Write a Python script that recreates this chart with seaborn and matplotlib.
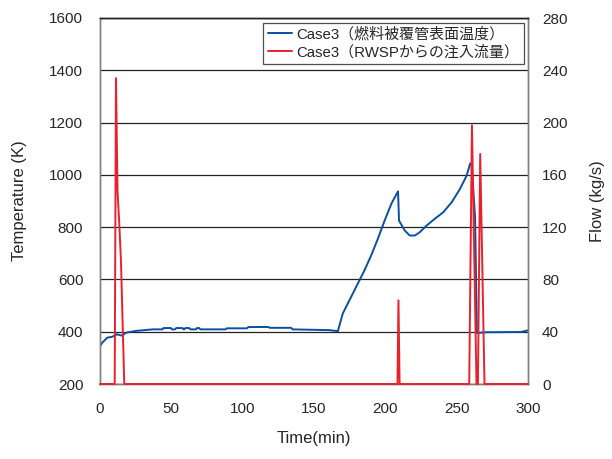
import matplotlib
matplotlib.use("Agg")
import matplotlib.pyplot as plt
import seaborn as sns
import pandas as pd

# ---- data ----
temp_time = [0, 1.6, 5, 8.7, 12, 14.5, 16, 18, 25, 37, 43.8, 44.5, 49.7, 50.4, 52.7, 53.4,
             57.9, 58.6, 59.1, 59.8, 62.6, 63.3, 67.3, 68, 69.6, 70.3, 88, 89, 103, 104,
             118, 119, 134, 135, 161, 166.7, 170.2, 174.9, 181.9, 185.4, 190.1, 194.8,
             199.5, 204.2, 206.6, 208.9, 209.6, 213.6, 217.1, 220.7, 224.2, 228.9, 234.7,
             240.6, 246.5, 252.3, 257, 259.5, 260.5, 262.9, 264.2, 266, 271, 295, 300]
temp_vals = [345, 358, 377, 381, 390, 386, 386, 396, 403, 409, 409, 414, 414, 409, 409, 414,
             414, 409, 409, 414, 414, 409, 409, 414, 414, 409, 409, 413, 413, 418,
             418, 415, 415, 409, 406, 402, 470, 521, 597, 635, 692, 756,
             825, 889, 914, 937, 825, 787, 768, 768, 781, 806, 832,
             857, 895, 946, 997, 1044, 1039, 838, 395, 396, 398, 399, 405]

flow_time = [0, 10.3, 11.2, 12.3, 13.5, 14.7, 17, 208.5, 209.2, 210,
             258.8, 260.7, 263.9, 264.9, 266.5, 269.5, 300]
flow_vals = [0, 0, 234, 147, 123, 94, 0, 0, 64, 0,
             0, 198, 0, 0, 176, 0, 0]

x_ticks = [0, 50, 100, 150, 200, 250, 300]
t_ticks = [200, 400, 600, 800, 1000, 1200, 1400, 1600]
f_ticks = [0, 40, 80, 120, 160, 200, 240, 280]

label_temp = "Case3（燃料被覆管表面温度）"
label_flow = "Case3（RWSPからの注入流量）"

df_t = pd.DataFrame({"time": temp_time, "value": temp_vals})
df_f = pd.DataFrame({"time": flow_time, "value": flow_vals})

# ---- style ----
sns.set_style("white")
plt.rcParams['font.family'] = ['Liberation Sans', 'Noto Sans CJK JP', 'DejaVu Sans']

BLUE = "#0a4fa3"
RED = "#e8212d"
GRID = "#222222"
SPINE = "#7f7f7f"

fig = plt.figure(figsize=(6.12, 4.59), dpi=100)
ax = fig.add_axes([100/612, 1 - 384/459, 428/612, 366/459])
ax2 = ax.twinx()

sns.lineplot(data=df_t, x="time", y="value", ax=ax, color=BLUE, lw=1.4,
             label=label_temp, legend=False, estimator=None, sort=False, zorder=3)
sns.lineplot(data=df_f, x="time", y="value", ax=ax2, color=RED, lw=1.4,
             label=label_flow, legend=False, estimator=None, sort=False,
             clip_on=False, zorder=5)

ax.set_xlim(0, 300)
ax.set_ylim(200, 1600)
ax2.set_ylim(0, 280)
ax.set_xticks(x_ticks)
ax.set_yticks(t_ticks)
ax2.set_yticks(f_ticks)

ax.yaxis.grid(True, color=GRID, lw=0.9)
ax.set_axisbelow(True)
ax.xaxis.grid(False)

for a in (ax, ax2):
    for s in a.spines.values():
        s.set_color(SPINE)
        s.set_linewidth(1.0)
ax.spines['top'].set_color(GRID)
ax2.spines['top'].set_color(GRID)

ax.tick_params(axis='x', direction='in', length=5, width=0.9, color="#333333",
               labelsize=11, pad=13)
ax.tick_params(axis='y', length=0, labelsize=11, pad=12)
ax2.tick_params(axis='y', length=0, labelsize=11, pad=10)

ax.set_xlabel("Time(min)", fontsize=12, labelpad=11)
ax.set_ylabel("Temperature (K)", fontsize=12, labelpad=16)
ax2.set_ylabel("Flow (kg/s)", fontsize=12, labelpad=16)

h1, l1 = ax.get_legend_handles_labels()
h2, l2 = ax2.get_legend_handles_labels()
leg = ax2.legend(h1 + h2, l1 + l2, loc="upper right", fontsize=10.8,
                 frameon=True, fancybox=False, edgecolor="#222222",
                 borderaxespad=0.3, handlelength=1.6, handletextpad=0.3,
                 borderpad=0.3, labelspacing=0.2)
leg.get_frame().set_linewidth(0.9)
leg.set_zorder(10)

fig.savefig("out.png", dpi=100)
